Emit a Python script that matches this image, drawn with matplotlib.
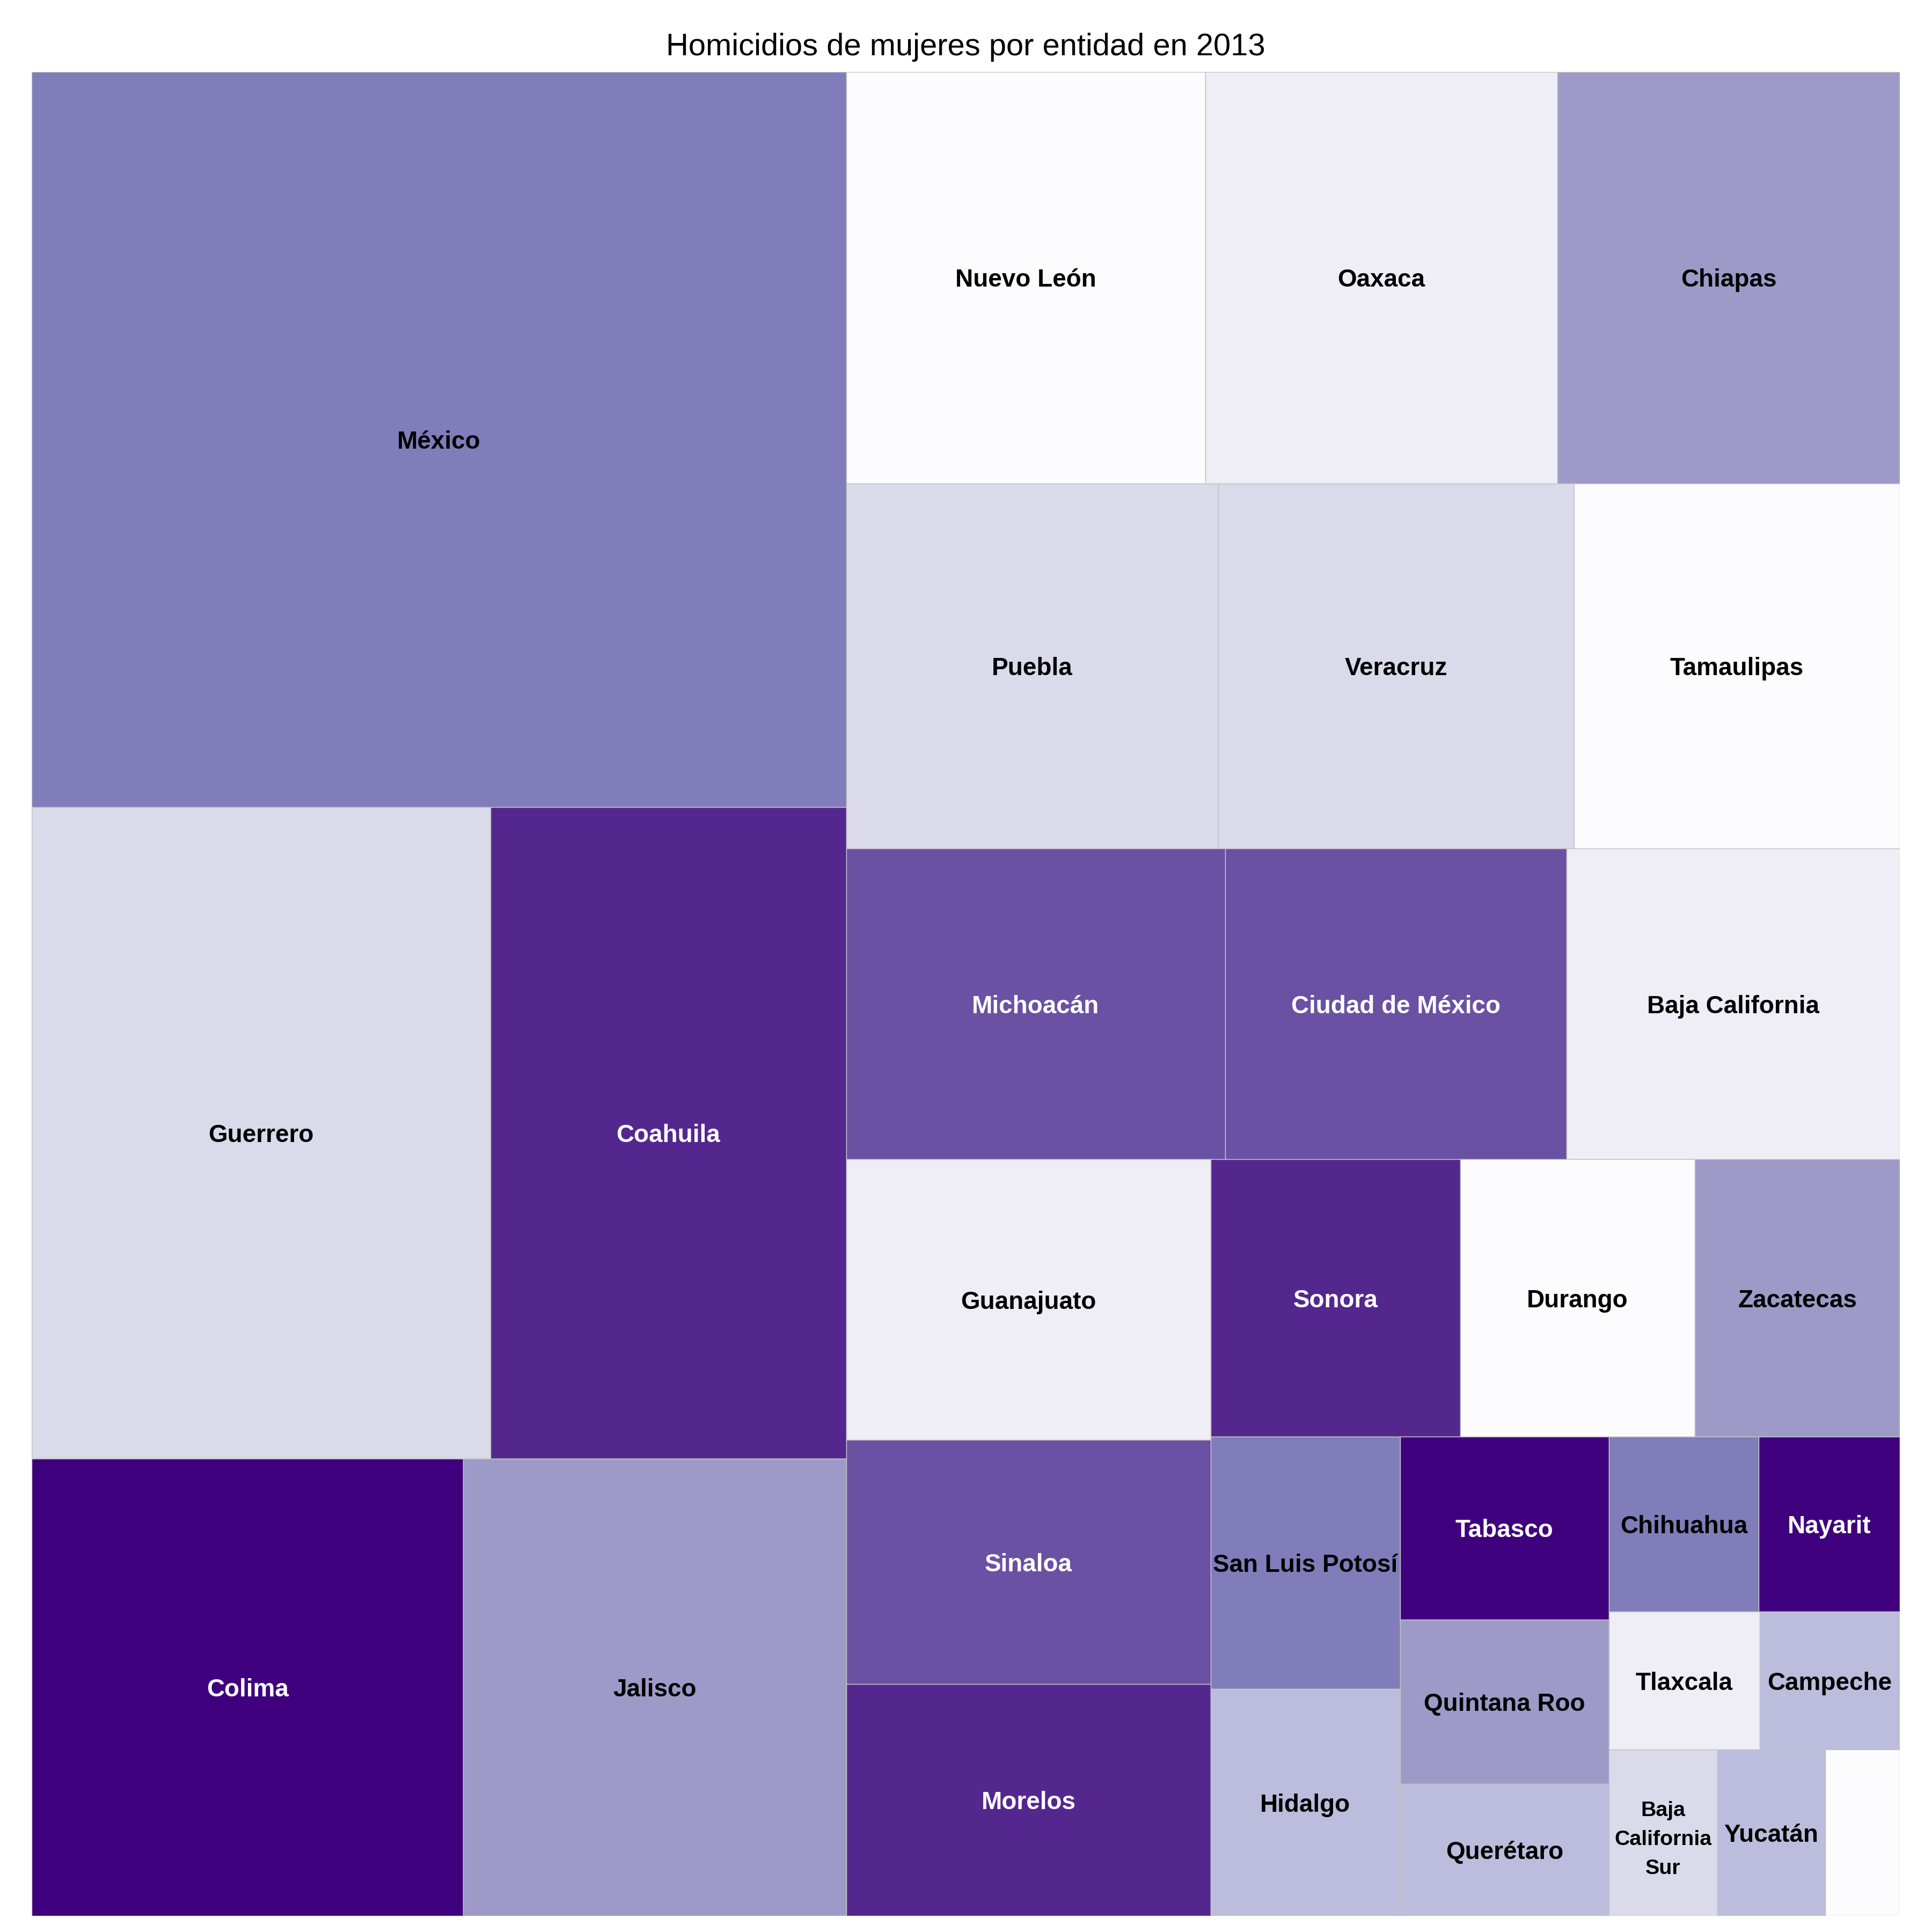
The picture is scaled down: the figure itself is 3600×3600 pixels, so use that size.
import itertools

import numpy as np
import matplotlib
matplotlib.use("Agg")
import matplotlib.pyplot as plt
from matplotlib.patches import Rectangle
from matplotlib.colors import to_rgb

# ---- data (relative size of each rectangle, colour class 1..9 of Purples) ----
estados = ['México', 'Guerrero', 'Coahuila', 'Colima', 'Jalisco',
           'Nuevo León', 'Oaxaca', 'Chiapas', 'Puebla', 'Veracruz',
           'Tamaulipas', 'Michoacán', 'Ciudad de México', 'Baja California',
           'Guanajuato', 'Sinaloa', 'Morelos', 'Sonora', 'Durango',
           'Zacatecas', 'San Luis Potosí', 'Hidalgo', 'Tabasco',
           'Quintana Roo', 'Querétaro', 'Chihuahua', 'Nayarit', 'Tlaxcala',
           'Campeche', 'Baja California Sur', 'Yucatán', 'Aguascalientes']
valores = [2080, 1038, 805, 685, 608,
           513, 503, 489, 471, 451,
           413, 409, 369, 360,
           355, 309, 293, 240, 226,
           197, 166, 149, 133,
           119, 96, 91, 86, 72,
           67, 62.5, 62.5, 43]
nivel = [6, 3, 8, 9, 5,
         1, 2, 5, 3, 3,
         1, 7, 7, 2,
         2, 7, 8, 8, 1,
         5, 6, 4, 9,
         5, 4, 6, 9, 2,
         4, 3, 4, 1]

purples = ['#fcfbfd', '#efedf5', '#dadaeb', '#bcbddc', '#9e9ac8',
           '#807dba', '#6a51a3', '#54278f', '#3f007d']

titulo = 'Homicidios de mujeres por entidad en 2013'

# plot area in pixels (figure is 3600 x 3600)
W, H = 3481, 3436


def pivot_size(items, x, y, w, h, out):
    """ordered treemap, pivot by size (items sorted by decreasing size)"""
    if len(items) == 0:
        return
    if len(items) == 1:
        out[items[0][0]] = (x, y, w, h)
        return
    total = sum(v for _, v in items)
    piv = items[0]
    rest = items[1:]
    wide = w >= h
    best_k, best_ar = 0, None
    for k in range(len(rest) + 1):
        s2 = piv[1] + sum(v for _, v in rest[:k])
        if wide:
            a = w * s2 / total
            b = h * piv[1] / s2
        else:
            a = w * piv[1] / s2
            b = h * s2 / total
        ar = max(a / b, b / a)
        if best_ar is None or ar < best_ar:
            best_k, best_ar = k, ar
    l2 = rest[:best_k]
    l3 = rest[best_k:]
    s2 = piv[1] + sum(v for _, v in l2)
    if wide:
        cw = w * s2 / total
        ph = h * piv[1] / s2
        out[piv[0]] = (x, y, cw, ph)
        pivot_size(l2, x, y + ph, cw, h - ph, out)
        pivot_size(l3, x + cw, y, w - cw, h, out)
    else:
        rh = h * s2 / total
        pw = w * piv[1] / s2
        out[piv[0]] = (x, y, pw, rh)
        pivot_size(l2, x + pw, y, w - pw, rh, out)
        pivot_size(l3, x, y + rh, w, h - rh, out)


orden = sorted(range(len(valores)), key=lambda i: -valores[i])
rects = {}
pivot_size([(i, valores[i]) for i in orden], 0, 0, W, H, rects)

fig = plt.figure(figsize=(12, 12), dpi=300)
ax = fig.add_axes([59 / 3600, 30 / 3600, W / 3600, H / 3600])
ax.set_xlim(0, W)
ax.set_ylim(H, 0)
ax.axis('off')

fig.text((59 + W / 2) / 3600, 1 - 88 / 3600, titulo, ha='center', va='center',
         fontsize=13.9, family='Liberation Sans', color='black')

renderer = fig.canvas.get_renderer()
label_fs = 11
lsp = 1.65


def text_size(lines, fs):
    t = fig.text(0, 0, '\n'.join(lines), fontsize=fs, fontweight='bold',
                 family='Liberation Sans', linespacing=lsp)
    bb = t.get_window_extent(renderer)
    t.remove()
    return bb.width, bb.height


for i in range(len(estados)):
    x, y, w, h = rects[i]
    fill = purples[nivel[i] - 1]
    ax.add_patch(Rectangle((x, y), w, h, facecolor=fill, edgecolor='#c4c4c4',
                           linewidth=0.35))
    r, g, b = to_rgb(fill)
    tc = 'white' if 0.299 * r + 0.587 * g + 0.114 * b < 0.45 else 'black'

    words = estados[i].split()
    best = None
    for cuts in itertools.product([0, 1], repeat=len(words) - 1):
        lines, cur = [], [words[0]]
        for wd, c in zip(words[1:], cuts):
            if c:
                lines.append(' '.join(cur))
                cur = [wd]
            else:
                cur.append(wd)
        lines.append(' '.join(cur))
        tw, th = text_size(lines, label_fs)
        frac = 1.0 if len(lines) == 1 else 0.9
        s = min(1.0, frac * w / tw, frac * h / th)
        if best is None or s > best[0] + 1e-6:
            best = (s, lines)
    s, lines = best
    if s < 0.45:
        continue
    ax.text(x + w / 2, y + h / 2, '\n'.join(lines), ha='center',
            va='center_baseline', fontsize=label_fs * s, fontweight='bold',
            family='Liberation Sans', color=tc, linespacing=lsp)

fig.savefig('out.png', dpi=300, facecolor='white')
